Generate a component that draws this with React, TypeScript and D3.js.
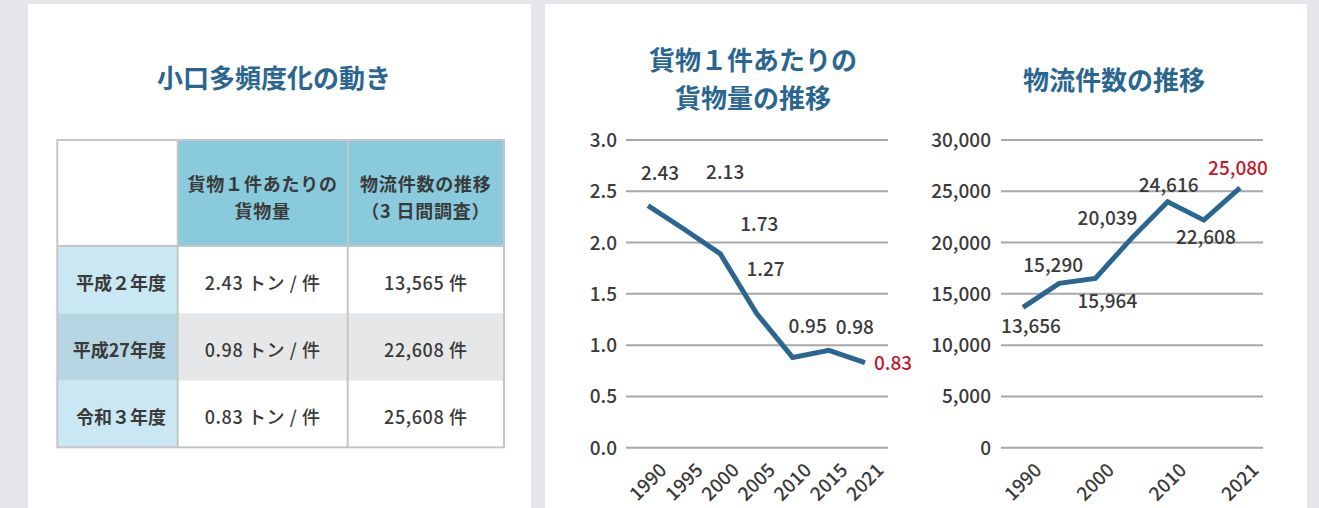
import React from "react";
import * as d3 from "d3";

// ---- data ----
const years = ["1990", "1995", "2000", "2005", "2010", "2015", "2021"];
const weightPerCase = [2.36, 2.13, 1.89, 1.31, 0.88, 0.95, 0.83];
const weightLabels = ["2.43", "2.13", "1.73", "1.27", "0.95", "0.98", "0.83"];
const weightTicks = [0, 0.5, 1, 1.5, 2, 2.5, 3];
const caseCounts = [13680, 16020, 16510, 20410, 23980, 22190, 25340];
const caseLabels = ["13,656", "15,290", "15,964", "20,039", "24,616", "22,608", "25,080"];
const caseTicks = [0, 5000, 10000, 15000, 20000, 25000, 30000];
const caseYearTicks = ["1990", "2000", "2010", "2021"];

const tableHeaders = [["貨物１件あたりの", "貨物量"], ["物流件数の推移", "（3 日間調査）"]];
const rowLabels = ["平成２年度", "平成27年度", "令和３年度"];
const weightCol = ["2.43 トン / 件", "0.98 トン / 件", "0.83 トン / 件"];
const countCol = ["13,565 件", "22,608 件", "25,608 件"];

// label placement offsets (px, relative to point)
const weightLabelOffsets = [[12, -33], [41, -57], [39, -30], [9, -44], [15, -31], [26, -23], [28, 0]];
const caseLabelOffsets = [[8, 19], [-6, -18], [12, 23], [-24, -20], [1, -17], [2, 17], [-2, -20]];

const FONT = "'Noto Sans CJK JP', 'Noto Sans', sans-serif";
const BLUE = "#2b6690";
const TEXT = "#3a3a3a";
const RED = "#c4172c";
const GRID = "#a6a6ad";
const FS = 19;

function LineChart(props: {
  x0: number; x1: number; values: number[]; labels: string[]; offsets: number[][];
  ticks: number[]; fmt: (v: number) => string; max: number; xTicks: string[]; labelRight: number;
}) {
  const { x0, x1, values, labels, offsets, ticks, fmt, max, xTicks, labelRight } = props;
  const y = d3.scaleLinear().domain([0, max]).range([447.7, 140]);
  const x = d3.scalePoint<string>().domain(years).range([x0 + 22, x1 - 23]);
  const line = d3.line<number>().x((_, i) => x(years[i])!).y((d) => y(d));
  const last = values.length - 1;
  return (
    <g>
      {ticks.map((t) => (
        <g key={t}>
          <line x1={x0} x2={x1} y1={y(t)} y2={y(t)} stroke={GRID} strokeWidth={2} />
          <text x={labelRight} y={y(t) + 7} textAnchor="end" fontSize={FS} fontWeight={500} fill={TEXT}>
            {fmt(t)}
          </text>
        </g>
      ))}
      <path d={line(values) || ""} fill="none" stroke={BLUE} strokeWidth={5} strokeLinejoin="miter" />
      {values.map((v, i) => (
        <text key={i} x={x(years[i])! + offsets[i][0]} y={y(v) + offsets[i][1] + 7}
          textAnchor="middle" fontSize={FS} fontWeight={500} fill={i === last ? RED : TEXT}>
          {labels[i]}
        </text>
      ))}
      {xTicks.map((t) => (
        <text key={t} transform={`translate(${x(t)},${482}) rotate(-45)`} textAnchor="middle"
          dy="0.35em" fontSize={FS} fontWeight={500} fill={TEXT}>
          {t}
        </text>
      ))}
    </g>
  );
}

function Table() {
  const cols = [57.3, 177.7, 347.7, 504];
  const rows = [140, 246, 313.3, 380.7, 447.3];
  const cx = (i: number) => (cols[i] + cols[i + 1]) / 2;
  const cy = (r: number) => (rows[r] + rows[r + 1]) / 2;
  const bodyFill = ["#ffffff", "#e6e7e9", "#ffffff"];
  const labelFill = ["#c9e8f4", "#b5d6e2", "#c9e8f4"];
  return (
    <g>
      <rect x={cols[0]} y={rows[0]} width={cols[1] - cols[0]} height={rows[1] - rows[0]} fill="#fff" />
      {[1, 2].map((c) => (
        <rect key={c} x={cols[c]} y={rows[0]} width={cols[c + 1] - cols[c]} height={rows[1] - rows[0]} fill="#89cbdd" />
      ))}
      {[0, 1, 2].map((r) => (
        <g key={r}>
          <rect x={cols[0]} y={rows[r + 1]} width={cols[1] - cols[0]} height={rows[r + 2] - rows[r + 1]} fill={labelFill[r]} />
          <rect x={cols[1]} y={rows[r + 1]} width={cols[3] - cols[1]} height={rows[r + 2] - rows[r + 1]} fill={bodyFill[r]} />
        </g>
      ))}
      <rect x={cols[0]} y={rows[0]} width={cols[3] - cols[0]} height={rows[4] - rows[0]} fill="none" stroke="#c6c6c8" strokeWidth={2} />
      {[1, 2].map((c) => (
        <line key={c} x1={cols[c]} x2={cols[c]} y1={rows[0]} y2={rows[4]} stroke="#c6c6c8" strokeWidth={2} />
      ))}
      <line x1={cols[0]} x2={cols[3]} y1={rows[1]} y2={rows[1]} stroke="#c6c6c8" strokeWidth={2} />
      {tableHeaders.map((lines, c) => (
        <g key={c}>
          {lines.map((t, k) => (
            <text key={k} x={cx(c + 1)} y={(k === 0 ? 184.3 : 211) + 6.7} textAnchor="middle" fontSize={18}
              fontWeight={700} letterSpacing={0.8} fill={TEXT}>
              {t}
            </text>
          ))}
        </g>
      ))}
      {rowLabels.map((t, r) => (
        <g key={r}>
          <text x={166} y={cy(r + 1) + 3.5 + 6.7} textAnchor="end" fontSize={18} fontWeight={700} fill={TEXT}>{t}</text>
          <text x={cx(1)} y={cy(r + 1) + 3.5 + 6.7} textAnchor="middle" fontSize={18} fontWeight={500} letterSpacing={0.6} fill={TEXT} style={{ whiteSpace: "pre" }}>{weightCol[r]}</text>
          <text x={cx(2)} y={cy(r + 1) + 3.5 + 6.7} textAnchor="middle" fontSize={18} fontWeight={500} letterSpacing={0.6} fill={TEXT} style={{ whiteSpace: "pre" }}>{countCol[r]}</text>
        </g>
      ))}
    </g>
  );
}

export default function App() {
  return (
    <div style={{ position: "fixed", left: 0, top: 0 }}>
      <svg width={1319} height={508} fontFamily={FONT} style={{ display: "block" }}>
        <rect width={1319} height={508} fill="#e6e7ea" />
        <rect x={28} y={4} width={503} height={504} fill="#fff" />
        <rect x={545} y={4} width={762} height={504} fill="#fff" />
        <text x={274} y={78.5 + 9.5} textAnchor="middle" fontSize={26} fontWeight={700} fill={BLUE}>小口多頻度化の動き</text>
        <Table />
        <text x={753} y={60.7 + 9.5} textAnchor="middle" fontSize={26} fontWeight={700} fill={BLUE}>貨物１件あたりの</text>
        <text x={753} y={98.3 + 9.5} textAnchor="middle" fontSize={26} fontWeight={700} fill={BLUE}>貨物量の推移</text>
        <text x={1114} y={80 + 9.5} textAnchor="middle" fontSize={26} fontWeight={700} fill={BLUE}>物流件数の推移</text>
        <LineChart x0={626} x1={888} values={weightPerCase} labels={weightLabels} offsets={weightLabelOffsets}
          ticks={weightTicks} fmt={d3.format(".1f")} max={3} xTicks={years} labelRight={617} />
        <LineChart x0={1001} x1={1263} values={caseCounts} labels={caseLabels} offsets={caseLabelOffsets}
          ticks={caseTicks} fmt={d3.format(",")} max={30000} xTicks={caseYearTicks} labelRight={991} />
      </svg>
    </div>
  );
}
